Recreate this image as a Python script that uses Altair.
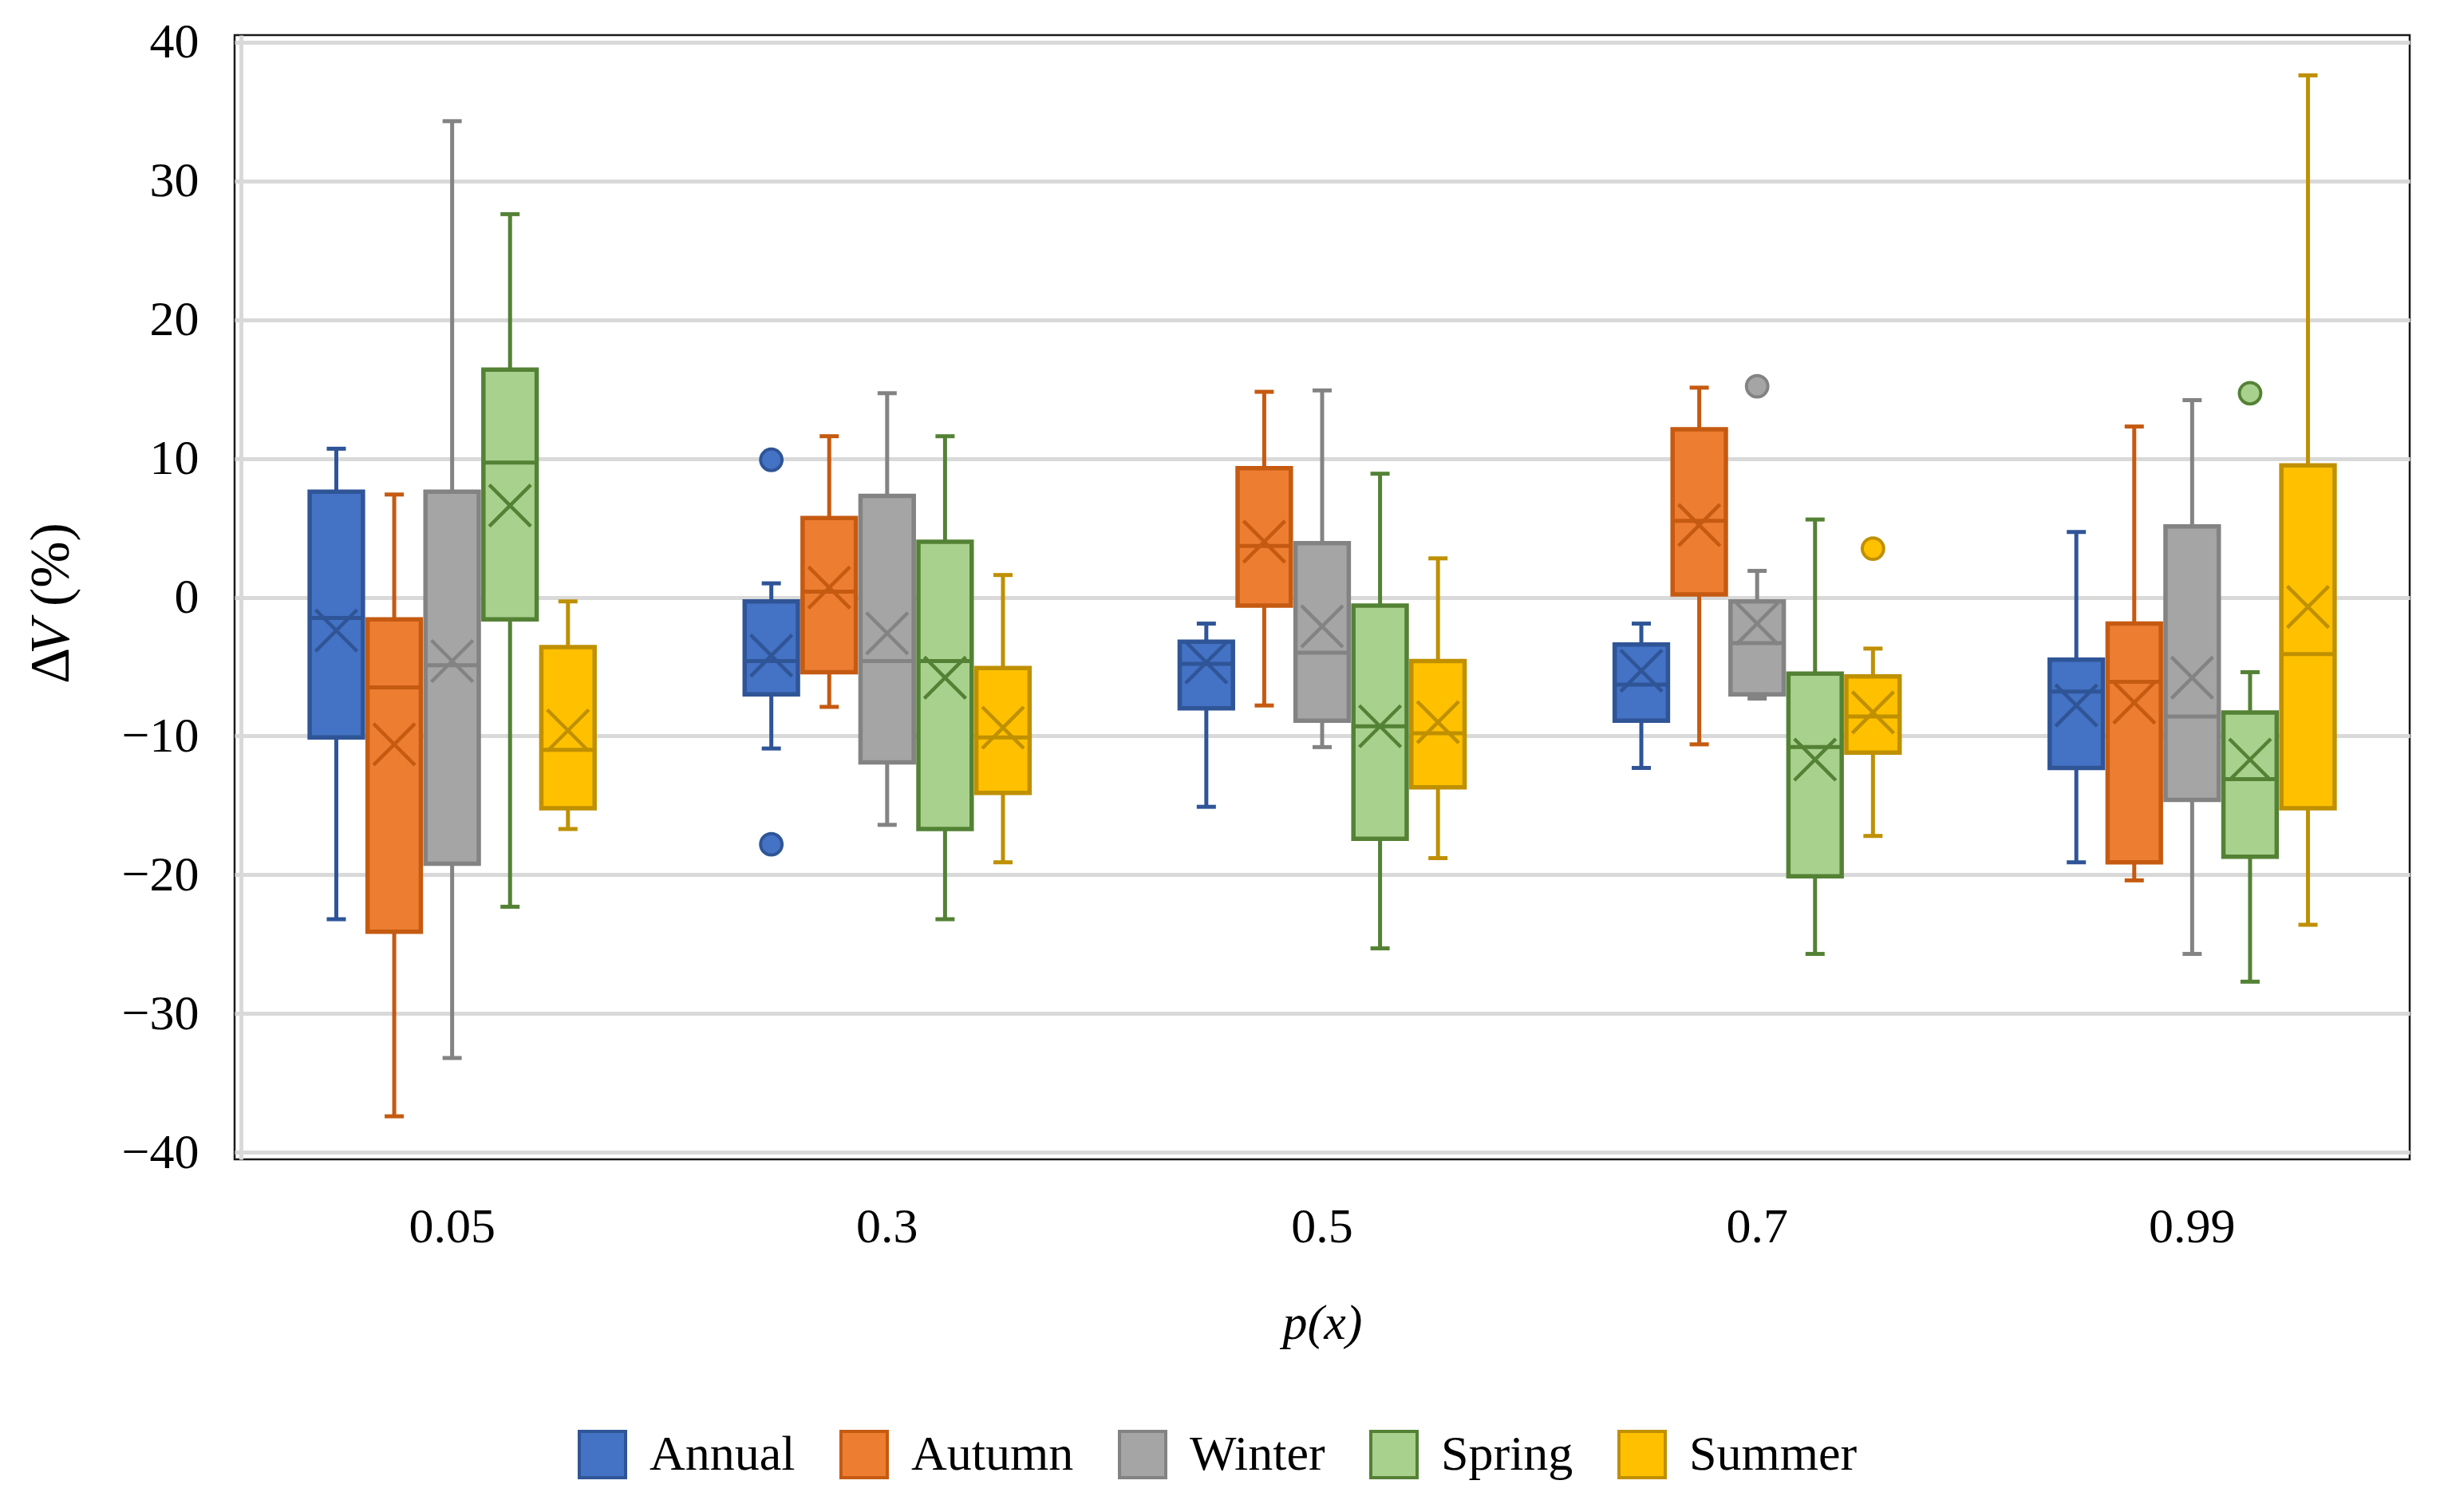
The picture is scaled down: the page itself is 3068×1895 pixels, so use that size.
import altair as alt
import pandas as pd

categories = ["0.05", "0.3", "0.5", "0.7", "0.99"]
seasons = ["Annual", "Autumn", "Winter", "Spring", "Summer"]

whisker_low = {
    "Annual": [-23.2, -10.9, -15.1, -12.3, -19.1],
    "Autumn": [-37.4, -7.9, -7.8, -10.6, -20.4],
    "Winter": [-33.2, -16.4, -10.8, -7.3, -25.7],
    "Spring": [-22.3, -23.2, -25.3, -25.7, -27.7],
    "Summer": [-16.7, -19.1, -18.8, -17.2, -23.6],
}
quartile1 = {
    "Annual": [-10.1, -7.0, -8.0, -8.9, -12.3],
    "Autumn": [-24.1, -5.4, -0.6, 0.2, -19.1],
    "Winter": [-19.2, -11.9, -8.9, -7.0, -14.6],
    "Spring": [-1.6, -16.7, -17.4, -20.1, -18.7],
    "Summer": [-15.2, -14.1, -13.7, -11.2, -15.2],
}
median = {
    "Annual": [-1.5, -4.6, -4.8, -6.3, -6.8],
    "Autumn": [-6.5, 0.4, 3.7, 5.5, -6.1],
    "Winter": [-4.9, -4.6, -4.0, -3.3, -8.6],
    "Spring": [9.7, -4.6, -9.3, -10.8, -13.1],
    "Summer": [-11.0, -10.1, -9.8, -8.6, -4.1],
}
quartile3 = {
    "Annual": [7.6, -0.3, -3.2, -3.4, -4.5],
    "Autumn": [-1.6, 5.7, 9.3, 12.1, -1.9],
    "Winter": [7.6, 7.3, 3.9, -0.3, 5.1],
    "Spring": [16.4, 4.0, -0.6, -5.5, -8.3],
    "Summer": [-3.6, -5.1, -4.6, -5.7, 9.5],
}
whisker_high = {
    "Annual": [10.7, 1.0, -1.9, -1.9, 4.7],
    "Autumn": [7.4, 11.6, 14.8, 15.1, 12.3],
    "Winter": [34.3, 14.7, 14.9, 1.9, 14.2],
    "Spring": [27.6, 11.6, 8.9, 5.6, -5.4],
    "Summer": [-0.3, 1.6, 2.8, -3.7, 37.6],
}
mean = {
    "Annual": [-2.4, -4.2, -4.7, -5.3, -7.8],
    "Autumn": [-10.6, 0.7, 4.0, 5.2, -7.6],
    "Winter": [-4.6, -2.6, -2.1, -1.9, -5.8],
    "Spring": [6.6, -5.8, -9.3, -11.7, -11.7],
    "Summer": [-9.6, -9.4, -9.0, -8.3, -0.7],
}
outlier_p = ["0.3", "0.3", "0.7", "0.7", "0.99"]
outlier_season = ["Annual", "Annual", "Winter", "Summer", "Spring"]
outlier_value = [9.9, -17.8, 15.2, 3.5, 14.7]

fill_colors = ["#4472C4", "#ED7D31", "#A5A5A5", "#A9D18E", "#FFC000"]
stroke_colors = ["#2F5597", "#C55A11", "#838383", "#548235", "#BF9000"]

rows = []
for s in seasons:
    for i, c in enumerate(categories):
        rows.append(dict(p=c, season=s, lo=whisker_low[s][i], q1=quartile1[s][i],
                         med=median[s][i], q3=quartile3[s][i], hi=whisker_high[s][i],
                         mean=mean[s][i]))
df = pd.DataFrame(rows)
out_df = pd.DataFrame({"p": outlier_p, "season": outlier_season, "value": outlier_value})

FONT = "Liberation Serif"
PLOT_W, PLOT_H = 2726, 1409

x_enc = alt.X("p:N", sort=categories,
              scale=alt.Scale(domain=categories, paddingInner=0.345, paddingOuter=0.1726),
              axis=alt.Axis(title="p(x)", titleFont=FONT, titleFontSize=62, titleFontStyle="italic",
                            titleFontWeight="normal", titleColor="black", titlePadding=60,
                            labelFont=FONT, labelFontSize=62, labelColor="black", labelAngle=0,
                            labelPadding=54, domain=False, ticks=False, tickSize=0))
xo_enc = alt.XOffset("season:N", sort=seasons,
                     scale=alt.Scale(domain=seasons, paddingInner=0.08, paddingOuter=0))
y_axis = alt.Axis(values=list(range(-40, 41, 10)), title=None, grid=True, gridColor="#D9D9D9",
                  gridWidth=5, domainColor="#D9D9D9", domainWidth=5, offset=-8, ticks=False,
                  tickSize=0, labelFont=FONT, labelFontSize=62, labelColor="black", labelPadding=53)
y_scale = alt.Scale(domain=[-40.5, 40.5], nice=False, zero=False)


def Y(field):
    return alt.Y(f"{field}:Q", scale=y_scale, axis=y_axis)


legend = alt.Legend(orient="none", legendX=430, legendY=1748, direction="horizontal", title=None,
                    symbolType="square", symbolSize=3364, symbolStrokeWidth=4, labelFont=FONT,
                    labelFontSize=62, labelColor="black", labelOffset=28, columnPadding=49,
                    labelLimit=600, padding=0, symbolOpacity=1)
fill_enc = alt.Fill("season:N", sort=seasons, scale=alt.Scale(domain=seasons, range=fill_colors), legend=legend)
stroke_enc = alt.Stroke("season:N", sort=seasons, scale=alt.Scale(domain=seasons, range=stroke_colors), legend=legend)

HLINE = "M-1,0L1,0"
CROSS = "M-1,-1L1,1M-1,1L1,-1"

base = alt.Chart(df)

boxes = base.mark_bar(strokeWidth=5.5, opacity=1).encode(x=x_enc, xOffset=xo_enc, y=Y("q1"), y2="q3:Q",
                                                         fill=fill_enc, stroke=stroke_enc)
whisk_low = base.mark_rule(strokeWidth=5).encode(x=x_enc, xOffset=xo_enc, y=Y("lo"), y2="q1:Q", stroke=stroke_enc)
whisk_high = base.mark_rule(strokeWidth=5).encode(x=x_enc, xOffset=xo_enc, y=Y("q3"), y2="hi:Q", stroke=stroke_enc)
cap_low = base.mark_point(shape=HLINE, size=576, filled=False, strokeWidth=5, opacity=1).encode(
    x=x_enc, xOffset=xo_enc, y=Y("lo"), stroke=stroke_enc)
cap_high = base.mark_point(shape=HLINE, size=576, filled=False, strokeWidth=5, opacity=1).encode(
    x=x_enc, xOffset=xo_enc, y=Y("hi"), stroke=stroke_enc)
medians = base.mark_point(shape=HLINE, size=4356, filled=False, strokeWidth=5, opacity=1).encode(
    x=x_enc, xOffset=xo_enc, y=Y("med"), stroke=stroke_enc)
means = base.mark_point(shape=CROSS, size=2704, filled=False, strokeWidth=4.5, opacity=1).encode(
    x=x_enc, xOffset=xo_enc, y=Y("mean"), stroke=stroke_enc)
outliers = alt.Chart(out_df).mark_point(shape="circle", size=720, filled=True, strokeWidth=4, opacity=1).encode(
    x=x_enc, xOffset=xo_enc, y=Y("value"), fill=fill_enc, stroke=stroke_enc)

title_style = dict(angle=270, align="left", baseline="middle", font=FONT, fontSize=70, color="black")
t_delta = alt.Chart(pd.DataFrame({"t": ["Δ"]})).mark_text(**title_style).encode(
    text="t:N", x=alt.value(-229), y=alt.value(813))
t_v = alt.Chart(pd.DataFrame({"t": ["V"]})).mark_text(fontStyle="italic", **title_style).encode(
    text="t:N", x=alt.value(-229), y=alt.value(776))
t_pct = alt.Chart(pd.DataFrame({"t": ["(%)"]})).mark_text(**title_style).encode(
    text="t:N", x=alt.value(-229), y=alt.value(716))

chart = alt.layer(boxes, whisk_low, whisk_high, cap_low, cap_high, medians, means, outliers,
                  t_delta, t_v, t_pct).properties(
    width=PLOT_W, height=PLOT_H,
    autosize=alt.AutoSizeParams(type="none"),
    padding={"left": 286, "top": 36, "right": 40, "bottom": 420},
    background="white",
).configure_view(stroke="#1A1A1A", strokeWidth=2.5)

chart.save("out.html", embed_options={"renderer": "svg", "actions": False})
